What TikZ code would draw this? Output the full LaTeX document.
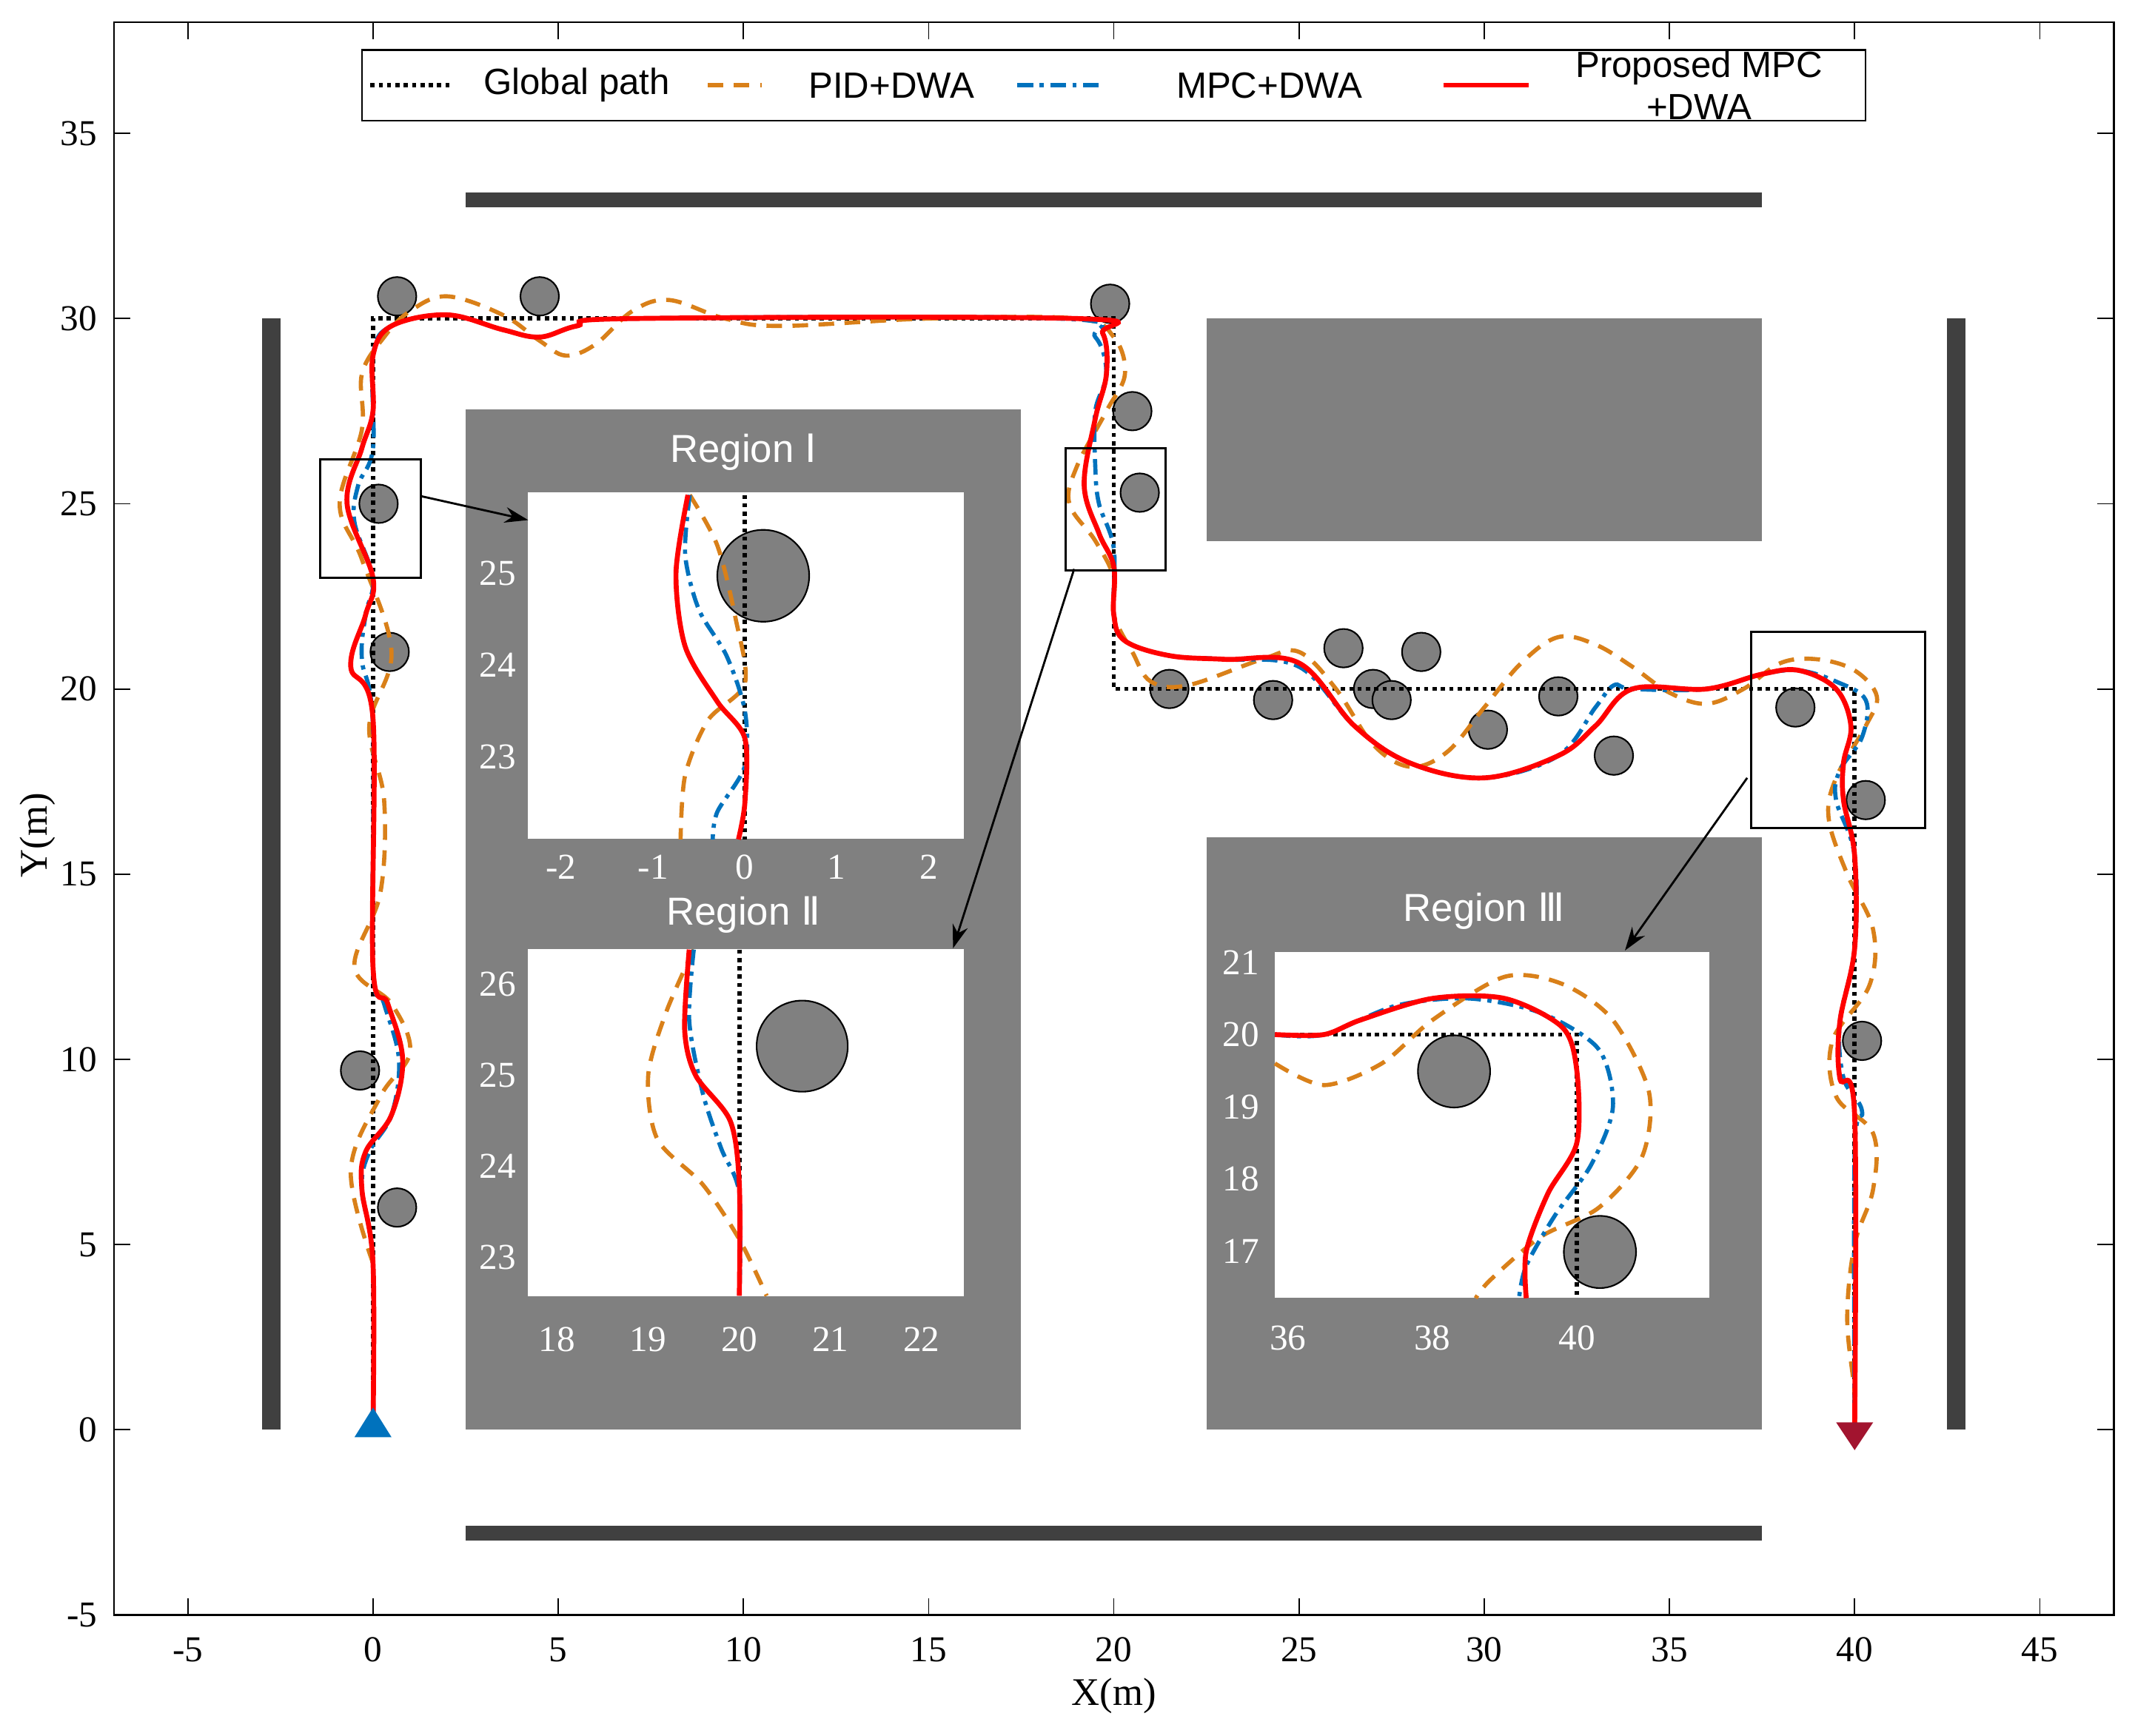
\documentclass[tikz,border=0pt]{standalone}
\usepackage{fontspec}
\setmainfont{Liberation Serif}
\newfontfamily\sans{Liberation Sans}
\newfontfamily\rom{DejaVu Sans}
\usetikzlibrary{arrows.meta}
\definecolor{cor}{RGB}{217,128,25}
\definecolor{cbl}{RGB}{0,114,189}
\definecolor{cre}{RGB}{255,0,0}
\definecolor{wall}{RGB}{64,64,64}
\definecolor{blk}{RGB}{128,128,128}
\definecolor{endc}{RGB}{162,20,47}
\tikzset{
 gp/.style={line width=1.6pt,dash pattern=on 1.6pt off 1.6pt,black},
 pid/.style={line width=1.6pt,cor,dash pattern=on 6pt off 4pt},
 mpc/.style={line width=1.6pt,cbl,dash pattern=on 6pt off 2.5pt on 1.6pt off 2.5pt},
 pro/.style={line width=1.9pt,cre},
 obs/.style={fill=blk,draw=black,line width=0.6pt},
 zb/.style={draw=black,line width=0.8pt},
 tl/.style={font=\fontsize{14}{16}\selectfont},
 wl/.style={font=\fontsize{14}{16}\selectfont,text=white},
 rl/.style={font=\sans\fontsize{15}{17}\selectfont,text=white},
 ar/.style={-{Stealth[length=9pt,width=6pt]},line width=0.8pt},
}
\begin{document}
\begin{tikzpicture}[x=0.5cm,y=0.5cm]
\useasboundingbox[fill=white] (-10.07,-8.25) rectangle (47.57,38.6);
% axes
\draw[line width=0.6pt] (-7,-5) rectangle (47,38);
\foreach \v in {-5,0,...,45}{
 \draw[line width=0.5pt] (\v,-5)--(\v,-4.55) (\v,38)--(\v,37.55);
 \node[tl] at (\v,-5.94) {\v};}
\foreach \v in {-5,0,...,35}{
 \draw[line width=0.5pt] (-7,\v)--(-6.55,\v) (47,\v)--(46.55,\v);
 \node[tl,anchor=east] at (-7.2,\v) {\v};}
\node[tl,font=\fontsize{15}{17}\selectfont] at (20,-7.18) {X(m)};
\node[tl,font=\fontsize{15}{17}\selectfont,rotate=90] at (-9.05,16.05) {Y(m)};
% walls
\fill[wall] (2.5,33.0) rectangle (37.5,33.4);
\fill[wall] (2.5,-2.6) rectangle (37.5,-3.0);
\fill[wall] (-3,0) rectangle (-2.5,30);
\fill[wall] (42.5,0) rectangle (43,30);
% blocks
\fill[blk] (2.5,0) rectangle (17.5,27.55);
\fill[blk] (22.5,24) rectangle (37.5,30);
\fill[blk] (22.5,0) rectangle (37.5,16);
% obstacles
\foreach \p in {(0.65,30.6),(4.5,30.6),(19.9,30.4),(20.5,27.5),(20.7,25.3),(0.15,25),(0.45,21),(-0.35,9.7),(0.65,6.0),(21.5,20.0),(24.3,19.7),(26.2,21.1),(27.0,20.0),(27.5,19.7),(28.3,21.0),(30.1,18.9),(32.0,19.8),(33.5,18.2),(38.4,19.5),(40.3,17.0),(40.2,10.5)}
 \draw[obs] \p circle (0.52);
% global path
\draw[gp] (0,0)--(0,30)--(20,30)--(20,20)--(40,20)--(40,0);
% PID
\draw[pid] plot[smooth,tension=0.6] coordinates {(0,4.5)(-0.6,7)(0.2,9)(1,10.2)(0.5,11.5)(-0.5,12.5)(0.2,14.5)(0.3,17)(-0.1,19)(0.5,21)(-0.3,23.5)(-0.9,25)(-0.3,27)(-0.3,28.5)(0.3,29.5)(1,30.2)(2,30.6)(3.5,30.1)(4.5,29.4)(5.2,29.0)(6,29.3)(7,30.2)(8,30.5)(9.5,30)(11,29.8)(15,30)(19,30)(20,29.5)(20.3,28.5)(19.8,27.5)(19,26)(18.8,25)(19.5,24)(20,23)(20,22)(20.5,21)(21,20.2)(22,20.1)(24,20.8)(25,21)(26,20)(27,18.5)(28,17.9)(29,18.3)(30,19.5)(31,20.7)(32,21.4)(33,21.2)(34,20.6)(35,19.9)(36,19.6)(37,20)(38,20.7)(39,20.8)(40,20.5)(40.6,19.8)(40.3,19)(39.5,17.6)(39.3,16.5)(39.8,15)(40.5,13.5)(40.4,12)(39.4,10.5)(39.5,9)(40.5,8)(40.5,6.5)(40,5)(39.8,3)(40,1)(40,0)};
% MPC
\draw[mpc] plot[smooth,tension=0.6] coordinates {(0,0)(0,4.5)(-0.3,6.5)(-0.1,7.5)(0.5,8.5)(0.7,10)(0.3,11.5)(0,12.5)(0,19)(-0.3,20.8)(-0.2,22)(0,23)(-0.5,24.5)(-0.4,25.5)(0,26.5)(0,29)(0.5,29.8)(2,30.1)(3.5,29.7)(4.5,29.5)(5.5,29.8)(7,30)(18.5,30)(19.5,29.5)(19.8,28.5)(19.5,27.5)(19.5,26)(19.6,25)(20,23.8)(20,22)(20.3,21.3)(21.5,20.9)(23,20.8)(25,20.6)(26.5,19)(28,18)(30,17.6)(32,18.2)(33,19.5)(33.5,20.1)(34,20)(36,20)(37.5,20.4)(38.5,20.5)(39.5,20.2)(40.3,19.7)(40.2,18.7)(39.6,17.8)(39.5,17)(40,15.5)(40,13)(39.6,11)(39.7,9.5)(40.2,8.6)(40,7.5)(40,0)};
% Proposed
\draw[pro] plot[smooth,tension=0.6] coordinates {(0,0)(0,4.5)(-0.3,6.5)(-0.2,7.5)(0.5,8.5)(0.8,10)(0.4,11.5)(0,12.5)(0,19.2)(-0.6,20.6)(-0.2,22)(0,23)(-0.7,25)(-0.3,26.5)(0,27.5)(0,29)(0.5,29.8)(2,30.1)(3.5,29.7)(4.5,29.5)(5.5,29.8)(7,30)(19,30)(19.7,29.6)(19.8,28.5)(19.5,27.3)(19.2,25.5)(19.6,24.2)(20,23.3)(20,22)(20.3,21.3)(21.5,20.9)(23,20.8)(25,20.7)(26.5,19)(28,18)(30,17.6)(32,18.2)(33,19)(34,20)(36,20)(37.5,20.4)(38.5,20.5)(39.5,20)(39.9,19)(39.7,18)(39.7,17)(40,15.5)(40,13)(39.6,11)(39.6,9.5)(40,8.5)(40,0)};
% start / end
\fill[cbl] (-0.5,-0.2)--(0.5,-0.2)--(0,0.6)--cycle;
\fill[endc] (39.5,0.2)--(40.5,0.2)--(40,-0.55)--cycle;
% zoom boxes
\node[zb,minimum width=1.36cm,minimum height=1.6cm,inner sep=0] (z1) at (-0.07,24.6) {};
\node[zb,minimum width=1.35cm,minimum height=1.65cm,inner sep=0] (z2) at (20.05,24.85) {};
\node[zb,minimum width=2.35cm,minimum height=2.65cm,inner sep=0] (z3) at (39.55,18.9) {};
% insets
\node[fill=white,minimum width=5.885cm,minimum height=4.675cm,inner sep=0] (i1) at (10.075,20.625) {};
\node[fill=white,minimum width=5.885cm,minimum height=4.69cm,inner sep=0] (i2) at (10.075,8.29) {};
\node[fill=white,minimum width=5.865cm,minimum height=4.67cm,inner sep=0] (i3) at (30.205,8.23) {};
\node[rl] (r1) at (10,26.4) {Region {\rom Ⅰ}};
\node[rl] (r2) at (10,13.9) {Region {\rom Ⅱ}};
\node[rl] (r3) at (30,14.0) {Region {\rom Ⅲ}};
\coordinate (a1) at (4.19,24.56);
\coordinate (a2) at (15.66,13.0);
\coordinate (a3) at (33.8,12.94);
\draw[ar] (z1.east |- 0,25.2) -- (a1);
\draw[ar] (18.93,23.24) -- (a2);
\draw[ar] (37.1,17.6) -- (a3);
% Region I
\begin{scope}[shift={(10.04,-38.87)},scale=2.48]
 \foreach \v in {-2,-1,0,1,2} \node[wl] at (\v,21.8) {\v};
 \foreach \u in {23,24,25} \node[wl] at (-2.69,\u) {\u};
 \draw[obs] (0.2,24.97) circle (0.5);
 \draw[gp] (0,25.85)--(0,22.1);
 \draw[pid] plot[smooth] coordinates {(-0.6,25.85)(-0.3,25.3)(-0.1,24.5)(0,23.8)(-0.4,23.4)(-0.65,22.8)(-0.7,22.1)};
 \draw[mpc] plot[smooth] coordinates {(-0.6,25.85)(-0.65,25.2)(-0.5,24.6)(-0.2,24.1)(0,23.5)(0,22.9)(-0.3,22.4)(-0.35,22.1)};
 \draw[pro] plot[smooth] coordinates {(-0.62,25.85)(-0.75,25)(-0.65,24.2)(-0.3,23.6)(0,23.2)(0,22.5)(-0.07,22.1)};
\end{scope}
% Region II
\begin{scope}[shift={(9.89,9.57)},scale=2.46]
 \begin{scope}[shift={(-20,-25)}]
 \foreach \v in {18,19,20,21,22} \node[wl] at (\v,22.1) {\v};
 \foreach \u in {23,24,25,26} \node[wl] at (17.35,\u) {\u};
 \draw[obs] (20.69,25.32) circle (0.5);
 \draw[gp] (20,26.38)--(20,22.58);
 \draw[pid] plot[smooth] coordinates {(19.5,26.38)(19.2,25.7)(19.0,25.0)(19.1,24.3)(19.6,23.8)(20,23.2)(20.3,22.58)};
 \draw[mpc] plot[smooth] coordinates {(19.5,26.38)(19.45,25.6)(19.6,24.8)(19.8,24.2)(20,23.7)(20,22.58)};
 \draw[pro] plot[smooth] coordinates {(19.45,26.38)(19.4,25.5)(19.52,25.0)(19.9,24.5)(20,23.8)(20,22.58)};
 \end{scope}
\end{scope}
% Region III
\begin{scope}[shift={(32.5,10.67)},scale=1.95]
 \begin{scope}[shift={(-40,-20)}]
 \foreach \v in {36,38,40} \node[wl] at (\v,15.8) {\v};
 \foreach \u in {17,18,19,20,21} \node[wl] at (35.35,\u) {\u};
 \draw[obs] (38.3,19.49) circle (0.5);
 \draw[obs] (40.32,16.99) circle (0.5);
 \draw[gp] (35.82,20)--(40,20)--(40,16.35);
 \draw[pid] plot[smooth] coordinates {(35.82,19.6)(36.5,19.3)(37.3,19.6)(38,20.2)(39,20.8)(39.8,20.7)(40.5,20.2)(41,19.2)(40.9,18.3)(40.3,17.6)(39.5,17.2)(38.8,16.6)(38.6,16.35)};
 \draw[mpc] plot[smooth] coordinates {(35.82,20)(36.5,20)(37.5,20.4)(38.5,20.5)(39.5,20.3)(40.3,19.8)(40.5,19)(40.2,18.2)(39.7,17.5)(39.3,16.8)(39.2,16.35)};
 \draw[pro] plot[smooth] coordinates {(35.82,20)(36.5,20)(37,20.2)(38,20.5)(39,20.5)(39.8,20.1)(40,19.5)(40,18.5)(39.6,17.8)(39.3,17)(39.3,16.35)};
 \end{scope}
\end{scope}
% legend
\node[draw=black,line width=0.6pt,fill=white,minimum width=20.3cm,minimum height=0.95cm,inner sep=0] (leg) at (20,36.3) {};
\draw[gp] (-0.07,36.3)--(2.17,36.3);
\node[font=\sans\fontsize{14}{16}\selectfont] (l1) at (5.5,36.3) {Global path};
\draw[pid] (9.04,36.3)--(10.5,36.3);
\node[font=\sans\fontsize{14}{16}\selectfont] (l2) at (14.0,36.3) {PID+DWA};
\draw[mpc] (17.4,36.3)--(19.7,36.3);
\node[font=\sans\fontsize{14}{16}\selectfont] (l3) at (24.2,36.3) {MPC+DWA};
\draw[pro] (28.9,36.3)--(31.2,36.3);
\node[font=\sans\fontsize{14}{16}\selectfont,align=center] (l4) at (35.8,36.3) {Proposed MPC\\+DWA};
\end{tikzpicture}
\end{document}
